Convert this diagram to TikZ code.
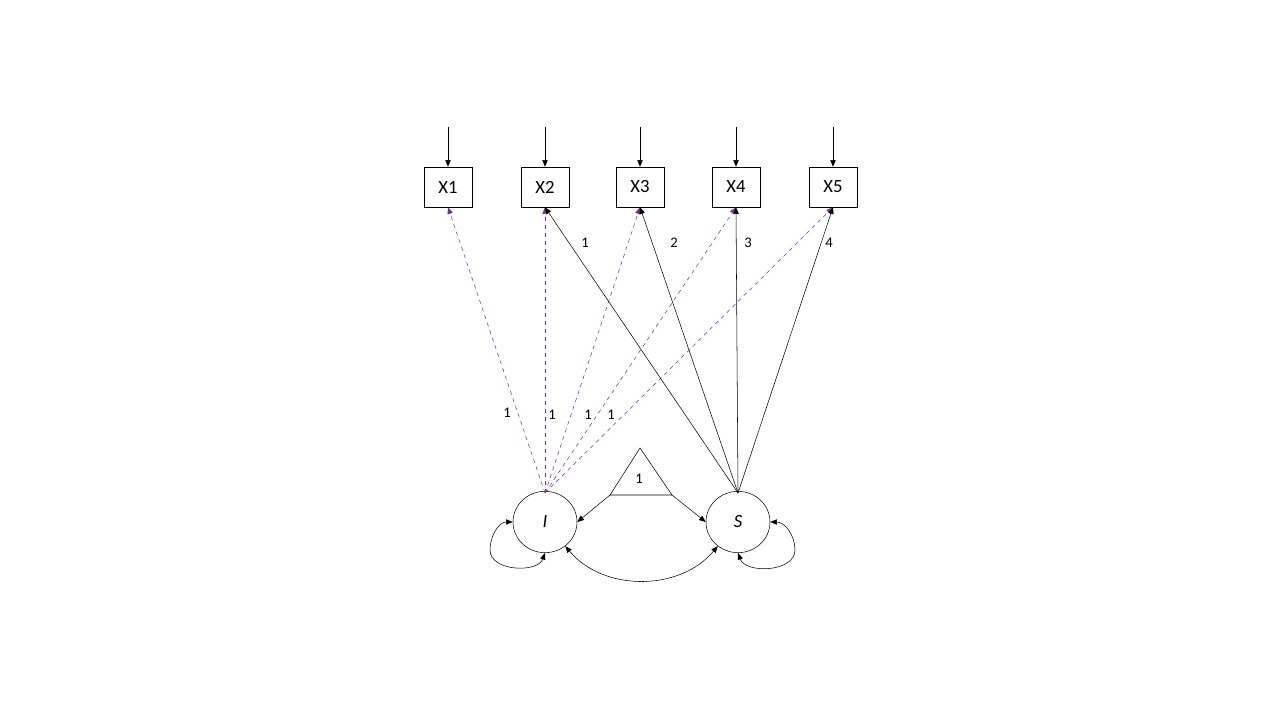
\documentclass[tikz,border=0pt]{standalone}
\usepackage{fontspec}
\setmainfont{Carlito}
\usetikzlibrary{arrows.meta,shapes.geometric}
\definecolor{purp}{RGB}{112,48,160}
\begin{document}
\begin{tikzpicture}[x=0.75pt,y=-0.75pt,
  obs/.style={draw,minimum width=36pt,minimum height=30pt,inner sep=0pt,font=\fontsize{14}{14}\selectfont},
  lat/.style={draw,ellipse,minimum width=48pt,minimum height=46pt,inner sep=0pt,font=\fontsize{14}{14}\selectfont\itshape},
  arr/.style={-{Triangle[length=5pt,width=4pt]},black},
  dsh/.style={arr,purp,dashed},
  lab/.style={font=\fontsize{11}{11}\selectfont}]
\useasboundingbox (0,0) rectangle (1280,720);
\foreach \i/\x in {1/448,2/545,3/640,4/736,5/833}{
  \node[obs] (X\i) at (\x,187) {X\i};
  \coordinate (t\i) at (\x,127);
  \draw[arr] (t\i) -- (X\i);
}
\node[lat] (I) at (545,522) {I};
\node[lat] (S) at (738,522) {S};
\coordinate (Itop) at (545,493);
\coordinate (Stop) at (738,493);
\foreach \i in {1,...,5}{\draw[dsh] (Itop) -- (X\i.south);}
\foreach \i in {2,...,5}{\draw[arr] (Stop) -- (X\i.south);}
\coordinate (ta) at (640,448);
\coordinate (tl) at (610,495);
\coordinate (tr) at (672,495);
\draw (ta) -- (tl) -- (tr) -- cycle;
\node[lab] (one) at (639,479) {1};
\draw[arr] (tl) -- (I.east);
\draw[arr] (tr) -- (S.west);
\draw[arr,{Triangle[length=5pt,width=4pt]}-{Triangle[length=5pt,width=4pt]}] (I.-50) to[out=-50,in=-130] (S.-130);
\draw[arr,{Triangle[length=5pt,width=4pt]}-{Triangle[length=5pt,width=4pt]}] (I.west) to[out=180,in=90] (490,550) to[out=-90,in=-110] (I.-90);
\draw[arr,{Triangle[length=5pt,width=4pt]}-{Triangle[length=5pt,width=4pt]}] (S.east) to[out=0,in=90] (795,550) to[out=-90,in=-70] (S.-90);
\node[lab] (l1) at (585,243) {1};
\node[lab] (l2) at (674,243) {2};
\node[lab] (l3) at (748,243) {3};
\node[lab] (l4) at (829,243) {4};
\node[lab] (d1) at (507,413) {1};
\node[lab] (d2) at (552,415) {1};
\node[lab] (d3) at (588,415) {1};
\node[lab] (d4) at (611,415) {1};
\end{tikzpicture}
\end{document}
